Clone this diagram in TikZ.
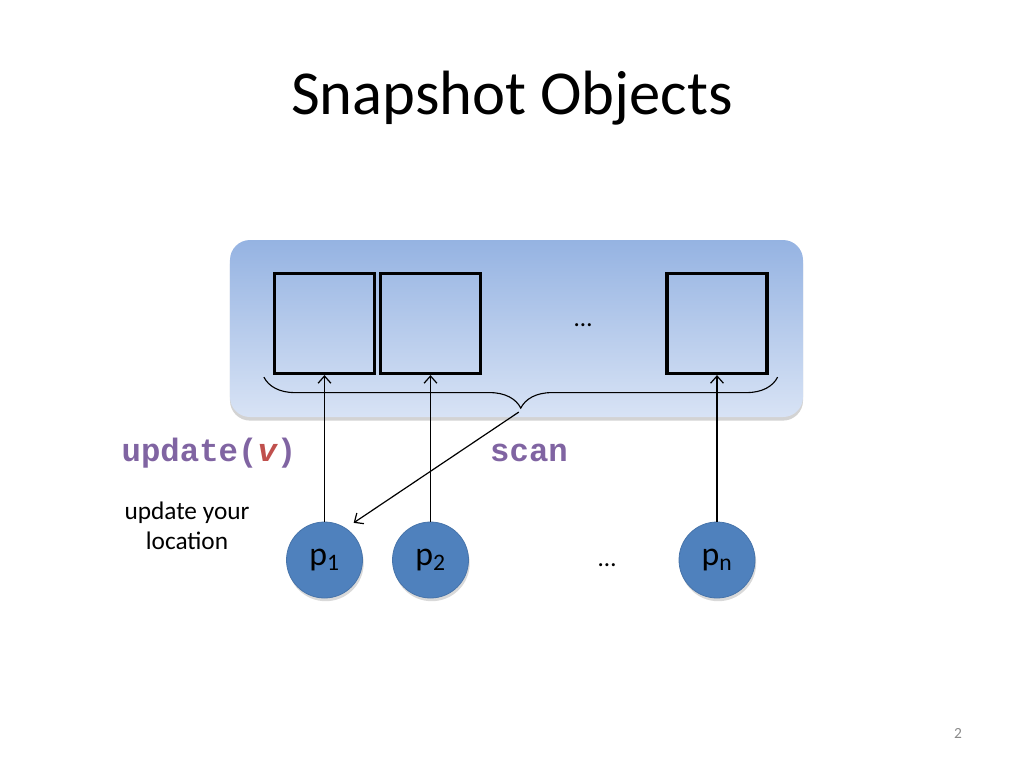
\documentclass[tikz,border=0pt]{standalone}
\usepackage{fontspec}
\setmainfont{Carlito}
\setmonofont{Liberation Mono}
\usetikzlibrary{positioning,calc,shadows,decorations.pathreplacing,arrows.meta}

\definecolor{paneltop}{RGB}{149,179,226}
\definecolor{panelbot}{RGB}{216,227,245}
\definecolor{procblue}{RGB}{79,129,189}
\definecolor{oppurple}{RGB}{128,100,162}
\definecolor{argred}{RGB}{192,80,77}
\definecolor{pagegray}{RGB}{137,137,137}

\begin{document}
\begin{tikzpicture}[x=0.25mm,y=-0.25mm]
  \useasboundingbox (0,0) rectangle (1024,768);
  % title
  \node [font=\fontsize{44.5}{48}\selectfont] (title) at (512,98) {Snapshot Objects};
  \node [text=pagegray,font=\fontsize{11}{13}\selectfont] (page) at (958,733) {2};

  % the shared object
  \node [
    rectangle,
    rounded corners=5mm,
    minimum width=143.25mm,
    minimum height=44.25mm,
    top color=paneltop,
    bottom color=panelbot,
    drop shadow={shadow xshift=0mm,shadow yshift=-0.9mm,opacity=0.35},
  ] (panel) at (516.5,328.5) {};

  \begin{scope}[
    every node/.style={
      rectangle,
      draw,
      line width=0.8mm,
      minimum size=25mm,
      inner sep=0pt,
    },
    ]
    % C1
    \node (c1) at (324.5,323.5) {};
    % C2
    \node [right=0.7mm of c1] (c2) {};
    % Cn
    \node (c3) at (717,323.5) {};
  \end{scope}
  \node [font=\fontsize{18}{20}\selectfont] (cdots) at (583,325) {…};

  % processes
  \coordinate (row) at (0,560);
  \begin{scope}[
    every node/.style={
      circle,
      fill=procblue,
      draw=procblue!90!black,
      line width=0.2mm,
      minimum size=19mm,
      inner sep=0pt,
      drop shadow={shadow xshift=0.3mm,shadow yshift=-0.8mm,opacity=0.3},
      font=\fontsize{24}{26}\selectfont,
    },
    ]
    % P1
    \node (p1) at (c1 |- row) {p\textsubscript{1}};
    % P2
    \node (p2) at (c2 |- row) {p\textsubscript{2}};
    % Pn
    \node (p3) at (c3 |- row) {p\textsubscript{n}};
  \end{scope}
  \node [font=\fontsize{18}{20}\selectfont] (pdots) at (607,565) {…};

  % labels
  \node [text=oppurple,font=\fontsize{23}{25}\selectfont\ttfamily\bfseries] (update) at (209,453)
    {update(\textcolor{argred}{\itshape v})};
  \node [text=oppurple,font=\fontsize{23}{25}\selectfont\ttfamily\bfseries] (scan) at (529,453)
    {scan};
  \node [align=center,font=\fontsize{18}{21}\selectfont] (note) at (187,526)
    {update your\\location};

  \begin{scope}[
    myarrow/.style={
      -{Straight Barb[length=1.8mm,width=3.2mm]},
      line width=0.3mm,
    },
    ]
    % Path update
    \draw [myarrow] (p1) -- (c1);
    \draw [myarrow] (p2) -- (c2);
    \draw [myarrow] (p3) -- (c3);

    % Path scan
    \coordinate (bl) at ($(c1.south west)+(-9,2)$);
    \coordinate (br) at ($(c3.south east)+(9,2)$);
    \draw [line width=0.28mm,decorate,decoration={brace,mirror,amplitude=7.75mm}] (bl) -- (br);
    \coordinate (scantip) at ($(bl)!0.5!(br)+(-2,35)$);
    \coordinate (scanend) at ($(p1.north east)+(2,-10)$);
    \draw [myarrow] (scantip) -- (scanend);
  \end{scope}
\end{tikzpicture}
\end{document}
